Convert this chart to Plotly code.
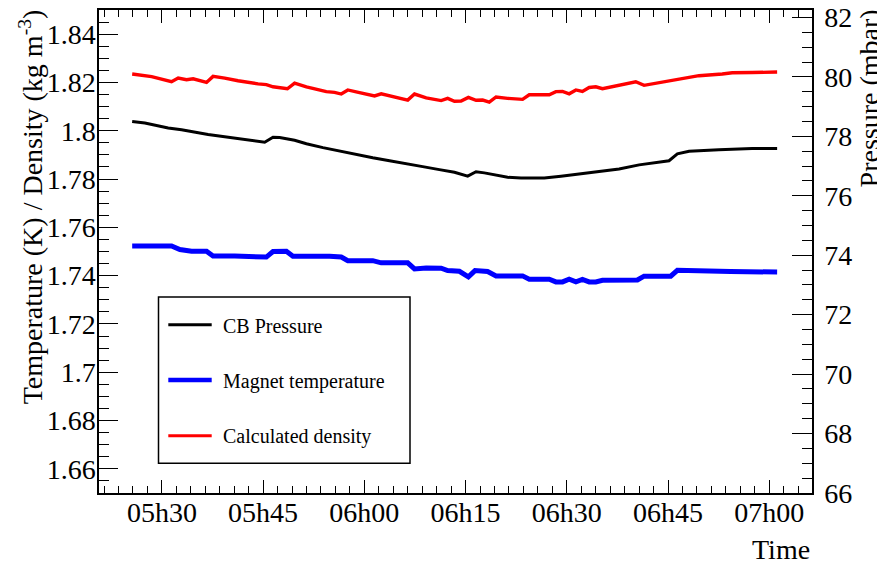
import plotly.graph_objects as go

DAY = "2000-01-01 "

# CB Pressure (mbar), right axis
black_t = ["05:25:36", "05:27:29", "05:30:56", "05:32:55", "05:36:51", "05:40:48", "05:45:14",
           "05:46:28", "05:47:27", "05:49:40", "05:51:25", "05:53:52", "05:56:20", "05:58:48",
           "06:01:15", "06:03:44", "06:06:12", "06:08:39", "06:11:07", "06:13:21", "06:15:19",
           "06:16:33", "06:17:47", "06:19:45", "06:21:14", "06:23:13", "06:26:40", "06:29:08",
           "06:32:05", "06:35:03", "06:37:45", "06:40:43", "06:45:09", "06:46:23", "06:48:07",
           "06:52:32", "06:57:28", "07:01:10"]
black_v = [78.50, 78.45, 78.28, 78.22, 78.06, 77.93, 77.80,
           77.97, 77.96, 77.87, 77.75, 77.62, 77.50, 77.38,
           77.28, 77.18, 77.07, 76.98, 76.88, 76.79, 76.66,
           76.81, 76.77, 76.67, 76.62, 76.60, 76.60, 76.66,
           76.74, 76.84, 76.90, 77.04, 77.18, 77.41, 77.50,
           77.55, 77.59, 77.59]

# Magnet temperature (K), left axis
blue_t = ["05:25:36", "05:31:26", "05:32:40", "05:34:24", "05:36:37", "05:37:35", "05:40:48",
          "05:45:29", "05:46:28", "05:48:27", "05:49:25", "05:51:25", "05:54:51", "05:56:35",
          "05:57:33", "06:01:15", "06:02:30", "06:06:26", "06:07:26", "06:09:10", "06:11:23",
          "06:12:21", "06:14:05", "06:15:25", "06:16:24", "06:18:16", "06:19:31", "06:23:27",
          "06:24:26", "06:27:24", "06:28:23", "06:29:22", "06:30:21", "06:31:21", "06:32:19",
          "06:33:19", "06:34:18", "06:35:17", "06:38:29", "06:40:28", "06:41:27", "06:45:24",
          "06:46:23", "06:53:02", "06:54:16", "07:01:10"]
blue_v = [1.7523, 1.7523, 1.7508, 1.7501, 1.7501, 1.7481, 1.7481,
          1.7477, 1.7500, 1.7501, 1.7480, 1.7481, 1.7480, 1.7477,
          1.7462, 1.7462, 1.7453, 1.7453, 1.7428, 1.7432, 1.7431,
          1.7421, 1.7418, 1.7395, 1.7421, 1.7417, 1.7399, 1.7399,
          1.7385, 1.7385, 1.7374, 1.7374, 1.7385, 1.7374, 1.7384,
          1.7374, 1.7374, 1.7381, 1.7382, 1.7382, 1.7398, 1.7398,
          1.7422, 1.7422, 1.7417, 1.7415]

# Calculated density (kg m^-3), left axis
red_t = ["05:25:36", "05:28:29", "05:31:26", "05:32:25", "05:33:39", "05:34:38", "05:36:37",
         "05:37:35", "05:39:19", "05:41:17", "05:44:15", "05:45:29", "05:46:28", "05:47:42",
         "05:48:36", "05:49:40", "05:51:25", "05:54:22", "05:55:35", "05:56:35", "05:57:33",
         "05:59:17", "06:01:31", "06:02:30", "06:04:13", "06:06:26", "06:07:26", "06:09:10",
         "06:11:23", "06:12:21", "06:13:21", "06:14:20", "06:15:25", "06:16:33", "06:17:32",
         "06:18:31", "06:19:31", "06:21:14", "06:23:27", "06:24:26", "06:27:24", "06:28:23",
         "06:29:22", "06:30:21", "06:31:21", "06:32:19", "06:33:19", "06:34:18", "06:35:17",
         "06:38:29", "06:40:13", "06:41:27", "06:46:08", "06:48:07", "06:49:35", "06:53:02",
         "06:54:31", "06:57:28", "07:01:10"]
red_v = [1.8235, 1.8224, 1.8203, 1.8218, 1.8211, 1.8215, 1.8200,
         1.8225, 1.8218, 1.8207, 1.8194, 1.8191, 1.8182, 1.8179,
         1.8174, 1.8197, 1.8182, 1.8162, 1.8159, 1.8152, 1.8169,
         1.8158, 1.8144, 1.8153, 1.8142, 1.8127, 1.8152, 1.8136,
         1.8125, 1.8134, 1.8122, 1.8123, 1.8138, 1.8126, 1.8127,
         1.8119, 1.8140, 1.8134, 1.8130, 1.8149, 1.8149, 1.8162,
         1.8163, 1.8153, 1.8169, 1.8163, 1.8179, 1.8182, 1.8174,
         1.8194, 1.8203, 1.8188, 1.8211, 1.8224, 1.8228, 1.8235,
         1.8240, 1.8241, 1.8243]

series_names = ["CB Pressure", "Magnet temperature", "Calculated density"]
series_colors = ["#000000", "#0000ff", "#ff0000"]
series_widths = [3, 5, 3.4]

FONT = "Liberation Serif"

fig = go.Figure()
fig.add_trace(go.Scatter(x=[DAY + t for t in blue_t], y=blue_v, mode="lines",
                         line=dict(color=series_colors[1], width=series_widths[1]),
                         name=series_names[1], showlegend=False, yaxis="y"))
fig.add_trace(go.Scatter(x=[DAY + t for t in red_t], y=red_v, mode="lines",
                         line=dict(color=series_colors[2], width=series_widths[2]),
                         name=series_names[2], showlegend=False, yaxis="y"))
fig.add_trace(go.Scatter(x=[DAY + t for t in black_t], y=black_v, mode="lines",
                         line=dict(color=series_colors[0], width=series_widths[0]),
                         name=series_names[0], showlegend=False, yaxis="y2"))

# The page body has an 8px margin: size the figure to fill the rest of the window
OFF = 8
W, H = 885 - OFF, 566 - OFF
# plot frame in window pixels: x 99..812, y 9.5..493
L, T = 99 - OFF, 9.5 - OFF
R, B = W - (812 - OFF), H - (493 - OFF)
pw, ph = W - L - R, H - T - B


def px(x):
    return (x - OFF - L) / pw


def py(y):
    return (H - B - (y - OFF)) / ph


shapes = [dict(type="rect", xref="paper", yref="paper",
               x0=px(158.5), x1=px(410), y0=py(463.3), y1=py(296.7),
               line=dict(color="black", width=1.5), fillcolor="white", layer="above")]
annotations = []
leg_y = [324.5, 380, 435.7]
leg_w = [3, 4.5, 3]
for i in range(3):
    shapes.append(dict(type="line", xref="paper", yref="paper",
                       x0=px(168.3), x1=px(211.7), y0=py(leg_y[i]), y1=py(leg_y[i]),
                       line=dict(color=series_colors[i], width=leg_w[i]), layer="above"))
    annotations.append(dict(text=series_names[i], xref="paper", yref="paper",
                            x=px(221), y=py(leg_y[i] + 1), xanchor="left", yanchor="middle",
                            showarrow=False, font=dict(family=FONT, size=20, color="black")))

annotations.append(dict(text="Temperature (K) / Density (kg m<sup>-3</sup>)", textangle=-90,
                        xref="paper", yref="paper", x=px(31), y=py(207),
                        xanchor="center", yanchor="middle", showarrow=False,
                        font=dict(family=FONT, size=28, color="black")))
annotations.append(dict(text="Pressure (mbar)", textangle=-90,
                        xref="paper", yref="paper", x=px(869), y=py(98),
                        xanchor="center", yanchor="middle", showarrow=False,
                        font=dict(family=FONT, size=28, color="black")))
annotations.append(dict(text="Time", xref="paper", yref="paper", x=px(812), y=py(550),
                        xanchor="right", yanchor="middle", showarrow=False,
                        font=dict(family=FONT, size=28, color="black")))

fig.update_layout(
    width=W, height=H,
    margin=dict(l=L, r=R, t=T, b=B, autoexpand=False),
    paper_bgcolor="white", plot_bgcolor="white",
    font=dict(family=FONT, size=28, color="black"),
    shapes=shapes, annotations=annotations,
    xaxis=dict(type="date", range=[DAY + "05:20:41", DAY + "07:06:20"],
               tick0=DAY + "05:30:00", dtick=15 * 60 * 1000, tickformat="%Hh%M",
               ticks="inside", ticklen=13, tickwidth=1.2, tickcolor="black",
               showline=True, linecolor="black", linewidth=1.5, mirror="ticks",
               showgrid=False, zeroline=False, ticklabelstandoff=-6,
               ticklabeloverflow="allow",
               minor=dict(tick0=DAY + "05:30:00", dtick=15 * 60 * 1000 / 7, ticks="inside",
                          ticklen=7, tickwidth=1.2, tickcolor="black", showgrid=False),
               tickfont=dict(family=FONT, size=28, color="black")),
    yaxis=dict(range=[1.65, 1.85], tick0=1.64, dtick=0.02,
               ticks="inside", ticklen=19, tickwidth=1.2, tickcolor="black",
               showline=True, linecolor="black", linewidth=1.5,
               showgrid=False, zeroline=False, ticklabeloverflow="allow",
               ticklabelstandoff=-4,
               minor=dict(dtick=0.005, ticks="inside", ticklen=10, tickwidth=1.2,
                          tickcolor="black", showgrid=False),
               tickfont=dict(family=FONT, size=28, color="black")),
    yaxis2=dict(range=[66, 82.25], tick0=66, dtick=2, overlaying="y", side="right",
                ticks="inside", ticklen=20, tickwidth=1.2, tickcolor="black",
                showline=True, linecolor="black", linewidth=1.5,
                showgrid=False, zeroline=False, ticklabelstandoff=5,
                ticklabeloverflow="allow",
                minor=dict(dtick=0.5, ticks="inside", ticklen=10, tickwidth=1.2,
                           tickcolor="black", showgrid=False),
                tickfont=dict(family=FONT, size=28, color="black")),
)

fig.write_html("out.html")
